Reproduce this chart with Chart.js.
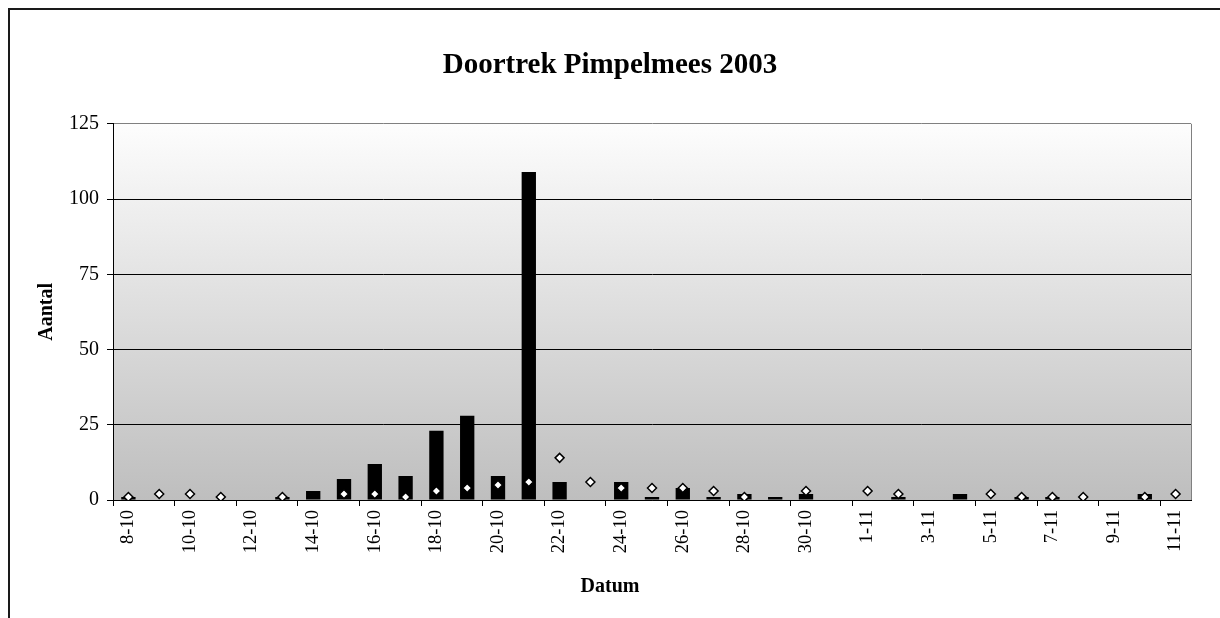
<!DOCTYPE html>
<html>
<head>
<meta charset="utf-8">
<title>Doortrek Pimpelmees 2003</title>
<script src="https://cdn.jsdelivr.net/npm/chart.js@4/dist/chart.umd.min.js"></script>
<style>
  html, body { margin: 0; padding: 0; background: #fff; }
  #wrap { position: relative; width: 1220px; height: 618px; }
</style>
</head>
<body>
<div id="wrap"><canvas id="myChart"></canvas></div>
<script>
// dates 8-10 .. 11-11
const labels = ['8-10','9-10','10-10','11-10','12-10','13-10','14-10','15-10','16-10','17-10',
    '18-10','19-10','20-10','21-10','22-10','23-10','24-10','25-10','26-10','27-10',
    '28-10','29-10','30-10','31-10','1-11','2-11','3-11','4-11','5-11','6-11',
    '7-11','8-11','9-11','10-11','11-11'];

// black bars: counted in 2003
const aantal2003 = [1, null, null, null, null, 1, 3, 7, 12, 8,
    23, 28, 8, 109, 6, null, 6, 1, 4, 1,
    2, 1, 2, null, null, 1, null, 2, null, 1,
    1, null, null, 2, null];

// diamonds
const gemiddelde = [1, 2, 2, 1, null, 1, null, 2, 2, 1,
    3, 4, 5, 6, 14, 6, 4, 4, 4, 3,
    1, null, 3, null, 3, 2, null, null, 2, 1,
    1, 1, null, 1, 2];

const yTicks = [0, 25, 50, 75, 100, 125];

const serif = "'Liberation Serif', 'Times New Roman', serif";

// background of plot + frame lines
const achtergrond = {
    id: 'achtergrond',
    beforeDraw: (chart) => {
        const {ctx, chartArea} = chart;
        ctx.save();
        ctx.strokeStyle = '#1a1a1a';
        ctx.lineWidth = 2;
        ctx.beginPath();
        ctx.moveTo(9, 700);
        ctx.lineTo(9, 9);
        ctx.lineTo(1300, 9);
        ctx.stroke();

        const grad = ctx.createLinearGradient(0, chartArea.top, 0, chartArea.bottom);
        grad.addColorStop(0, 'rgb(253,253,253)');
        grad.addColorStop(1, 'rgb(190,190,190)');
        ctx.fillStyle = grad;
        ctx.fillRect(chartArea.left, chartArea.top, chartArea.right - chartArea.left, chartArea.bottom - chartArea.top);

        ctx.strokeStyle = '#808080';
        ctx.lineWidth = 1;
        ctx.beginPath();
        ctx.moveTo(Math.round(chartArea.right) + 0.5, chartArea.top);
        ctx.lineTo(Math.round(chartArea.right) + 0.5, chartArea.bottom);
        ctx.stroke();
        ctx.restore();
    }
};

const data = {
    labels: labels,
    datasets: [{
        type: 'line',
        label: 'gemiddelde',
        data: gemiddelde,
        showLine: false,
        pointStyle: 'rectRot',
        pointRadius: 4.5,
        pointBorderWidth: 1.5,
        pointBackgroundColor: '#fff',
        pointBorderColor: '#000',
        order: 0
    }, {
        type: 'bar',
        label: '2003',
        data: aantal2003,
        backgroundColor: '#000',
        borderWidth: 0,
        barPercentage: 0.465,
        categoryPercentage: 1,
        order: 1
    }]
};

const config = {
    type: 'bar',
    data: data,
    plugins: [achtergrond],
    options: {
        responsive: true,
        maintainAspectRatio: false,
        animation: false,
        layout: { padding: 0 },
        plugins: {
            legend: { display: false },
            tooltip: { enabled: false },
            title: {
                display: true,
                text: 'Doortrek Pimpelmees 2003',
                color: '#000',
                font: { family: serif, size: 29, weight: 'bold' },
                padding: { top: 48, bottom: 41 }
            },
            subtitle: {
                display: true,
                position: 'bottom',
                text: 'Datum',
                color: '#000',
                font: { family: serif, size: 20, weight: 'bold' },
                padding: { top: 15, bottom: 19 }
            }
        },
        scales: {
            x: {
                offset: true,
                afterFit: (scale) => { scale.height = 60; },
                grid: {
                    offset: true,
                    drawOnChartArea: false,
                    tickLength: 6,
                    tickColor: (ctx) => (ctx.index !== undefined && ctx.index % 2 === 0) ? '#000' : 'rgba(0,0,0,0)'
                },
                border: { color: '#000', width: 1 },
                ticks: {
                    autoSkip: false,
                    minRotation: 90,
                    maxRotation: 90,
                    padding: 4,
                    color: '#000',
                    font: { family: serif, size: 18.5 },
                    callback: (v, i) => i % 2 === 0 ? labels[i] : ''
                }
            },
            y: {
                min: 0,
                max: 125,
                afterFit: (scale) => { scale.width = 113; },
                afterBuildTicks: (scale) => { scale.ticks = yTicks.map((v) => ({value: v})); },
                grid: {
                    color: (ctx) => ctx.tick && ctx.tick.value === 125 ? '#808080' : '#000',
                    tickColor: '#000',
                    tickLength: 6,
                    lineWidth: 1
                },
                border: { color: '#000', width: 1 },
                ticks: {
                    padding: 8,
                    color: '#000',
                    font: { family: serif, size: 20 }
                },
                title: {
                    display: true,
                    text: 'Aantal',
                    color: '#000',
                    font: { family: serif, size: 20, weight: 'bold' },
                    padding: { top: 35, bottom: 0 }
                }
            },
            rechts: {
                type: 'linear',
                position: 'right',
                display: true,
                afterFit: (scale) => { scale.width = 29; },
                grid: { display: false },
                border: { display: false },
                ticks: { display: false }
            }
        }
    }
};

var myChart = new Chart(document.getElementById('myChart'), config);
</script>
</body>
</html>
